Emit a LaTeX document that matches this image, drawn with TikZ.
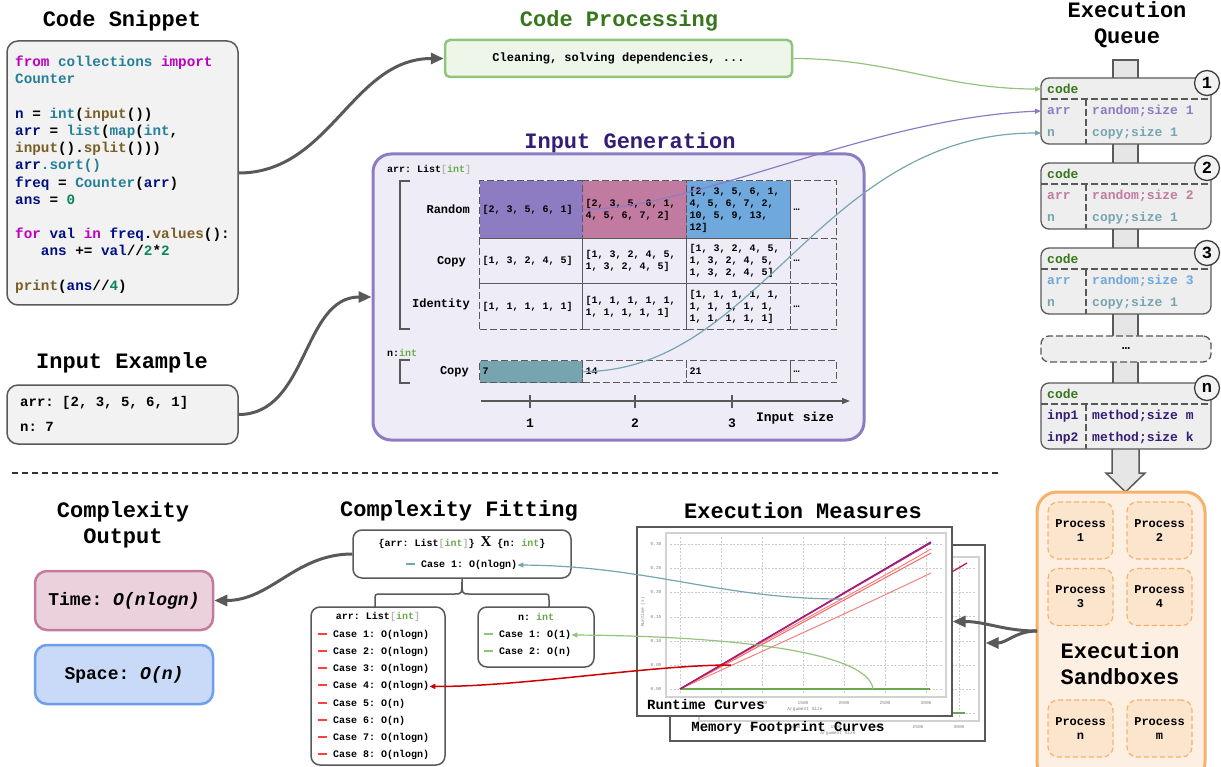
\documentclass[tikz,border=0pt]{standalone}
\usepackage{fontspec}
\setmainfont{Liberation Serif}
\setmonofont{Liberation Mono}
\usetikzlibrary{arrows.meta}

\definecolor{edgegray}{HTML}{595959}
\definecolor{cardfill}{HTML}{F2F2F2}
\definecolor{qfill}{HTML}{EEEEEE}
\definecolor{spinefill}{HTML}{E6E6E6}
\definecolor{kwcol}{HTML}{C000C0}
\definecolor{tycol}{HTML}{267F99}
\definecolor{fncol}{HTML}{795E26}
\definecolor{varcol}{HTML}{001080}
\definecolor{numcol}{HTML}{098658}
\definecolor{procgreen}{HTML}{93C47D}
\definecolor{procfill}{HTML}{EEF6EA}
\definecolor{darkgreen}{HTML}{38761D}
\definecolor{genpurple}{HTML}{8E7CC3}
\definecolor{genfill}{HTML}{EEECF7}
\definecolor{darkpurple}{HTML}{351C75}
\definecolor{rndpink}{HTML}{C27BA0}
\definecolor{rndblue}{HTML}{6FA8DC}
\definecolor{copyteal}{HTML}{76A5AF}
\definecolor{intgreen}{HTML}{6AA84F}
\definecolor{brkgray}{HTML}{B7B7B7}
\definecolor{sandorange}{HTML}{F6B26B}
\definecolor{sandfill}{HTML}{FDF0E3}
\definecolor{procfilltwo}{HTML}{FCE5CD}
\definecolor{timefill}{HTML}{EAD1DC}
\definecolor{spacefill}{HTML}{C9DAF8}
\definecolor{spaceblue}{HTML}{6D9EEB}
\definecolor{casered}{HTML}{FF4040}
\definecolor{fitred}{HTML}{CC0000}
\definecolor{crimson}{HTML}{C2185B}
\definecolor{plotpurple}{HTML}{7B1FA2}
\definecolor{salmon}{HTML}{F4817F}

\newcommand{\ckw}[1]{\textcolor{kwcol}{#1}}
\newcommand{\cty}[1]{\textcolor{tycol}{#1}}
\newcommand{\cfn}[1]{\textcolor{fncol}{#1}}
\newcommand{\cvar}[1]{\textcolor{varcol}{#1}}
\newcommand{\cnum}[1]{\textcolor{numcol}{#1}}
\newcommand{\listint}{List{\color{brkgray}[}{\color{intgreen}int}{\color{brkgray}]}}
\newcommand{\cdash}[1]{\textcolor{#1}{\rule[2.5pt]{9pt}{2pt}}\hspace{6pt}}
\newcommand{\plotaxes}[1]{%
  \foreach \gx in {680,721,...,926}
    \draw[gridline] (\gx,537) -- (\gx,693);
  \foreach \gy/\gv in {689/0.00,665/0.05,641/0.10,617/0.15,592/0.20,568/0.25,544/0.30} {
    \draw[gridline] (670,\gy) -- (942,\gy);
    \node[ticklab] (yt\gy) at (656,\gy) {\gv};
  }
  \foreach \gx/\gv in {721/500,762/1000,803/1500,844/2000,885/2500,926/3000}
    \node[ticklab] (xt\gv) at (\gx,703) {\gv};
  \node[ticklab] (xname) at (805,709) {Argument Size};
  \node[ticklab, rotate=90] (yname) at (643,612) {#1};
  \draw[gray!35, line width=2pt] (666,533) rectangle (946,697);
}

\begin{document}
\begin{tikzpicture}[x=1pt, y=-1pt,
   title/.style={font=\ttfamily\bfseries\fontsize{22}{26}\selectfont, align=center, inner sep=0pt},
   card/.style={draw=edgegray, fill=cardfill, line width=1.5pt, rounded corners=11pt},
   codeline/.style={anchor=base west, inner sep=0pt, font=\ttfamily\bfseries\fontsize{14.3}{17}\selectfont},
   txt/.style={anchor=west, inner sep=0pt, font=\ttfamily\bfseries\fontsize{14}{16}\selectfont},
   gentxt/.style={anchor=west, inner sep=0pt, font=\ttfamily\bfseries\fontsize{10}{12}\selectfont},
   cell/.style={draw=edgegray, dash pattern=on 7pt off 3pt, line width=1.3pt, anchor=north west,
                inner xsep=3pt, inner ysep=1pt, align=left, font=\ttfamily\bfseries\fontsize{10}{12}\selectfont},
   rowname/.style={anchor=east, inner sep=0pt, font=\ttfamily\bfseries\fontsize{12}{14}\selectfont},
   qbox/.style={draw=edgegray, fill=qfill, line width=1.3pt, rounded corners=8pt, minimum width=170, minimum height=66,
                font=\ttfamily\bfseries\fontsize{13}{15}\selectfont},
   qrow/.style={anchor=west, inner xsep=6pt, inner ysep=0pt, font=\ttfamily\bfseries\fontsize{13}{15}\selectfont},
   qnum/.style={circle, draw=edgegray!70!black, fill=cardfill, line width=1.3pt, minimum size=25, inner sep=0pt,
                font=\ttfamily\bfseries\fontsize{17}{17}\selectfont},
   process/.style={draw=sandorange, fill=procfilltwo, dash pattern=on 5pt off 3pt, line width=1.2pt, rounded corners=10pt,
                   minimum width=65, minimum height=57, align=center, inner sep=0pt,
                   font=\ttfamily\bfseries\fontsize{12}{14}\selectfont},
   outbox/.style={rounded corners=12pt, line width=2.5pt, minimum width=178, minimum height=59,
                  font=\ttfamily\bfseries\fontsize{18}{20}\selectfont},
   fitbox/.style={draw=edgegray, fill=white, line width=1.5pt, rounded corners=9pt},
   casetxt/.style={anchor=west, inner sep=0pt, font=\ttfamily\bfseries\fontsize{10}{12}\selectfont},
   panel/.style={draw=edgegray, fill=white, line width=1.3pt},
   plotname/.style={inner sep=0pt, font=\ttfamily\bfseries\fontsize{14}{16}\selectfont},
   ticklab/.style={inner sep=0pt, text=gray, font=\ttfamily\fontsize{4.5}{5}\selectfont},
   gridline/.style={gray!40, dash pattern=on 2pt off 1.5pt, line width=0.5pt},
   bigarrow/.style={draw=edgegray, line width=3pt, -{Triangle[length=13pt,width=11pt]}},
   thinarrow/.style={line width=1.2pt, -{Triangle[length=6pt,width=5pt]}}
]
\useasboundingbox (0,0) rectangle (1221,767);
\clip (0,0) rectangle (1221,767);

% titles
\node[title] (t-code) at (122,21) {Code Snippet};
\node[title] (t-input) at (122,363) {Input Example};
\node[title] (t-out) at (123,524.5) {Complexity\\Output};
\node[title, text=darkgreen] (t-clean) at (619,21) {Code Processing};
\node[title, text=darkpurple] (t-gen) at (630,143) {Input Generation};
\node[title] (t-queue) at (1127,25) {Execution\\Queue};
\node[title] (t-fit) at (459,511) {Complexity Fitting};
\node[title] (t-meas) at (803,511) {Execution Measures};

% code snippet
\node[card, minimum width=231, minimum height=264] (code) at (122.5,173) {};
\node[codeline] (cl1) at (15,67) {\ckw{from} \cty{collections} \ckw{import}};
\node[codeline] (cl2) at (15,84) {\cty{Counter}};
\node[codeline] (cl3) at (15,119) {\cvar{n} = \cty{int}(\cfn{input}())};
\node[codeline] (cl4) at (15,136) {\cvar{arr} = \cty{list}(\cty{map}(\cty{int},};
\node[codeline] (cl5) at (15,153) {\cfn{input}().\cfn{split}()))};
\node[codeline] (cl6) at (15,170) {\cvar{arr}\cty{.sort()}};
\node[codeline] (cl7) at (15,188) {\cvar{freq} = \cty{Counter}(\cvar{arr})};
\node[codeline] (cl8) at (15,205) {\cvar{ans} = \cnum{0}};
\node[codeline] (cl9) at (15,239) {\ckw{for} \cvar{val} \ckw{in} \cvar{freq}.\cfn{values}():};
\node[codeline] (cl10) at (15,256) {\phantom{for}\cvar{ans} += \cvar{val}//\cnum{2}*\cnum{2}};
\node[codeline] (cl11) at (15,291) {\cfn{print}(\cvar{ans}//\cnum{4})};

% input example
\node[card, minimum width=231, minimum height=59] (inex) at (122.5,414.5) {};
\node[txt] (ie1) at (20,403) {arr: [2, 3, 5, 6, 1]};
\node[txt] (ie2) at (20,427) {n: 7};

\draw[black!80, dash pattern=on 6pt off 4pt, line width=1.3pt] (12,473) -- (1000,473);

% code processing
\node[draw=procgreen, fill=procfill, line width=2.5pt, rounded corners=5pt, minimum width=347, minimum height=37,
      font=\ttfamily\bfseries\fontsize{12}{14}\selectfont] (clean) at (618.5,58.5) {Cleaning, solving dependencies, ...};

% input generation
\node[draw=genpurple, fill=genfill, line width=3pt, rounded corners=18pt, minimum width=491, minimum height=286] (gen) at (618.5,297) {};
\node[gentxt] (argarr) at (387,170) {arr: \listint};
\node[gentxt] (argn) at (387,353) {n:\textcolor{intgreen}{int}};
\draw[edgegray, line width=1.3pt] (410,181) -- (400,181) -- (400,329) -- (410,329);
\draw[edgegray, line width=1.3pt] (410,360) -- (400,360) -- (400,383) -- (410,383);
\node[rowname] (rl-rand) at (470,209) {Random};
\node[rowname] (rl-copy) at (466,262) {Copy};
\node[rowname] (rl-id) at (470,304) {Identity};
\node[rowname] (rl-ncopy) at (469,372) {Copy};
\foreach \c/\x/\w/\f/\t in {1/479/97/genpurple/{[2, 3, 5, 6, 1]},
                            2/582/98/rndpink/{[2, 3, 5, 6, 1,\\4, 5, 6, 7, 2]},
                            3/686/98/rndblue/{[2, 3, 5, 6, 1,\\4, 5, 6, 7, 2,\\10, 5, 9, 13,\\12]},
                            4/790/40/none/{…}}
  \node[cell, fill=\f, text width=\w, minimum height=58] (rnd\c) at (\x,180) {\spaceskip=0pt\xspaceskip=0pt\relax \t};
\foreach \c/\x/\w/\t in {1/479/97/{[1, 3, 2, 4, 5]},
                         2/582/98/{[1, 3, 2, 4, 5,\\1, 3, 2, 4, 5]},
                         3/686/98/{[1, 3, 2, 4, 5,\\1, 3, 2, 4, 5,\\1, 3, 2, 4, 5]},
                         4/790/40/{…}}
  \node[cell, text width=\w, minimum height=45] (cpy\c) at (\x,238) {\spaceskip=0pt\xspaceskip=0pt\relax \t};
\foreach \c/\x/\w/\t in {1/479/97/{[1, 1, 1, 1, 1]},
                         2/582/98/{[1, 1, 1, 1, 1,\\1, 1, 1, 1, 1]},
                         3/686/98/{[1, 1, 1, 1, 1,\\1, 1, 1, 1, 1,\\1, 1, 1, 1, 1]},
                         4/790/40/{…}}
  \node[cell, text width=\w, minimum height=46] (idn\c) at (\x,283) {\spaceskip=0pt\xspaceskip=0pt\relax \t};
\foreach \c/\x/\w/\f/\t in {1/479/97/copyteal/7, 2/582/98/none/14, 3/686/98/none/21, 4/790/40/none/{…}}
  \node[cell, fill=\f, text width=\w, minimum height=22] (ncp\c) at (\x,360) {\t};
\draw[edgegray, line width=1.5pt, -{Triangle[length=8pt,width=6pt]}] (481,401) -- (850,401);
\foreach \k/\tx in {1/530,2/635,3/732} {
  \draw[edgegray, line width=1.5pt] (\tx,395) -- (\tx,408);
  \node[inner sep=0pt, font=\ttfamily\bfseries\fontsize{13}{15}\selectfont] (ax\k) at (\tx,423) {\k};
}
\node[inner sep=0pt, font=\ttfamily\bfseries\fontsize{13}{15}\selectfont] (axname) at (795,418) {Input size};

% execution queue
\draw[draw=edgegray, fill=spinefill, line width=1.5pt] (1113,60) rectangle (1138,445);
\draw[draw=edgegray, fill=spinefill, line width=1.5pt]
  (1112,440) -- (1139,440) -- (1139,473) -- (1145,473) -- (1125.5,492) -- (1106,473) -- (1112,473) -- cycle;
\foreach \i/\y/\ca/\cb/\la/\ra/\lb/\rb in {1/78/genpurple/copyteal/arr/{random;size 1}/n/{copy;size 1},
                                         2/163/rndpink/copyteal/arr/{random;size 2}/n/{copy;size 1},
                                         3/248/rndblue/copyteal/arr/{random;size 3}/n/{copy;size 1},
                                         n/383/darkpurple/darkpurple/inp1/{method;size m}/inp2/{method;size k}} {
  \node[qbox] (q\i) at (1126,{\y+33}) {};
  \draw[edgegray, dash pattern=on 7pt off 3pt, line width=1.2pt] (1041,{\y+21}) -- (1211,{\y+21});
  \draw[edgegray, dash pattern=on 7pt off 3pt, line width=1.2pt] (1086,{\y+21}) -- (1086,{\y+66});
  \node[qrow, text=darkgreen] (q\i-code) at (1041,{\y+11}) {code};
  \node[qrow, text=\ca] (q\i-a) at (1041,{\y+33}) {\la};
  \node[qrow, text=\ca] (q\i-ra) at (1086,{\y+33}) {\ra};
  \node[qrow, text=\cb] (q\i-b) at (1041,{\y+55}) {\lb};
  \node[qrow, text=\cb] (q\i-rb) at (1086,{\y+55}) {\rb};
  \node[qnum] (q\i-num) at (1207,{\y+5}) {\i};
}
\node[qbox, dash pattern=on 7pt off 3pt, minimum height=26] (qdots) at (1126,349) {…};

% sandboxes
\node[draw=sandorange, fill=sandfill, line width=3pt, rounded corners=20pt, minimum width=168, minimum height=290] (sand) at (1121,637) {};
\foreach \p/\x/\y in {1/1080.5/530.5, 2/1159.5/530.5, 3/1080.5/597, 4/1159.5/597, n/1080.5/728.5, m/1159.5/728.5}
  \node[process] (pr\p) at (\x,\y) {Process\\\p};
\node[title] (t-sand) at (1120,664) {Execution\\Sandboxes};
\coordinate (sandout) at (1037,631);

% complexity output
\node[outbox, fill=timefill, draw=rndpink] (time) at (124,600.5) {Time: \textit{O(nlogn)}};
\node[outbox, fill=spacefill, draw=spaceblue] (space) at (124,674.5) {Space: \textit{O(n)}};

% complexity fitting
\node[fitbox, minimum width=218, minimum height=48] (fit) at (462,554) {};
\node[casetxt, anchor=center] (fithead) at (462,543)
  {\{arr: \listint\} {\rmfamily\bfseries\fontsize{15}{15}\selectfont X} \{n: \textcolor{intgreen}{int}\}};
\node[casetxt] (fitcase) at (406,565) {\cdash{copyteal}Case 1: O(nlogn)};
\node[fitbox, minimum width=134, minimum height=158] (arrbox) at (378,686) {};
\node[casetxt, anchor=center] (arrhead) at (378,617) {arr: \listint};
\foreach \k/\c in {1/nlogn,2/nlogn,3/nlogn,4/nlogn,5/n,6/n,7/nlogn,8/nlogn}
  \node[casetxt] (ac\k) at (318,{618+17.1*\k}) {\cdash{casered}Case \k: O(\c)};
\node[fitbox, minimum width=116, minimum height=60] (nbox) at (536,637) {};
\node[casetxt, anchor=center] (nhead) at (536,617) {n: \textcolor{intgreen}{int}};
\node[casetxt] (nc1) at (484,635) {\cdash{procgreen}Case 1: O(1)};
\node[casetxt] (nc2) at (484,652) {\cdash{procgreen}Case 2: O(n)};
\draw[edgegray, line width=1.5pt] (375,607) -- (375,600) .. controls (375,594) .. (381,594) -- (455,594)
  .. controls (462,594) .. (fit.south) .. controls (462,594) .. (469,594) -- (543,594)
  .. controls (549,594) .. (549,600) -- (549,607);

% execution measures
\node[panel, minimum width=315, minimum height=196] (mem) at (827.5,643) {};
\begin{scope}[shift={(33,24)}]
  \plotaxes{}
  \draw[crimson, line width=1.3pt] (680,689) -- (934,539);
  \draw[intgreen, line width=1.3pt] (680,689) -- (932,689);
\end{scope}
\node[plotname] (memname) at (788,728) {Memory Footprint Curves};
\node[panel, minimum width=315, minimum height=189] (rt) at (794.5,621.5) {};
\plotaxes{Runtime (s)}
\draw[intgreen, line width=1.2pt] (680,689) -- (930,689);
\draw[salmon, line width=1pt] (680,689) .. controls (760,652) and (850,612) .. (931,573);
\draw[salmon, line width=1pt] (680,689) .. controls (760,642) and (850,596) .. (931,549);
\draw[salmon!80!red, line width=1pt] (680,689) -- (931,553);
\draw[plotpurple, line width=1.5pt] (680,689) -- (931,542);
\draw[crimson, line width=1pt] (680,689) -- (931,543);
\node[plotname] (rtname) at (706,704) {Runtime Curves};
\coordinate (tealpt) at (842,599);
\coordinate (greenpt) at (873,689);
\coordinate (redpt) at (731,665);

% connectors
\draw[bigarrow] (code.east) to[out=0,in=180] (clean.west);
\draw[bigarrow] (inex.east) to[out=0,in=180] (gen.west);
\draw[bigarrow] (fit.west) to[out=180,in=0] (time.east);
\draw[bigarrow] (sandout) to[out=180,in=0] (rt.east);
\draw[bigarrow] (sandout) to[out=180,in=0] (mem.east);
\draw[thinarrow, procgreen] (clean.east) to[out=0,in=180] (q1-code.west);
\draw[thinarrow, genpurple] (rnd1.east) .. controls (700,208) and (870,118) .. (q1-a.west);
\draw[thinarrow, copyteal] (ncp1.east) .. controls (760,371) and (820,133) .. (q1-b.west);
\draw[thinarrow, copyteal] (tealpt) .. controls (720,599) and (650,566) .. (fitcase.east);
\draw[thinarrow, procgreen] (greenpt) .. controls (868,650) and (720,636) .. (nc1.east);
\draw[thinarrow, fitred, line width=1.5pt] (redpt) .. controls (650,665) and (520,687) .. (ac4.east);
\end{tikzpicture}
\end{document}
